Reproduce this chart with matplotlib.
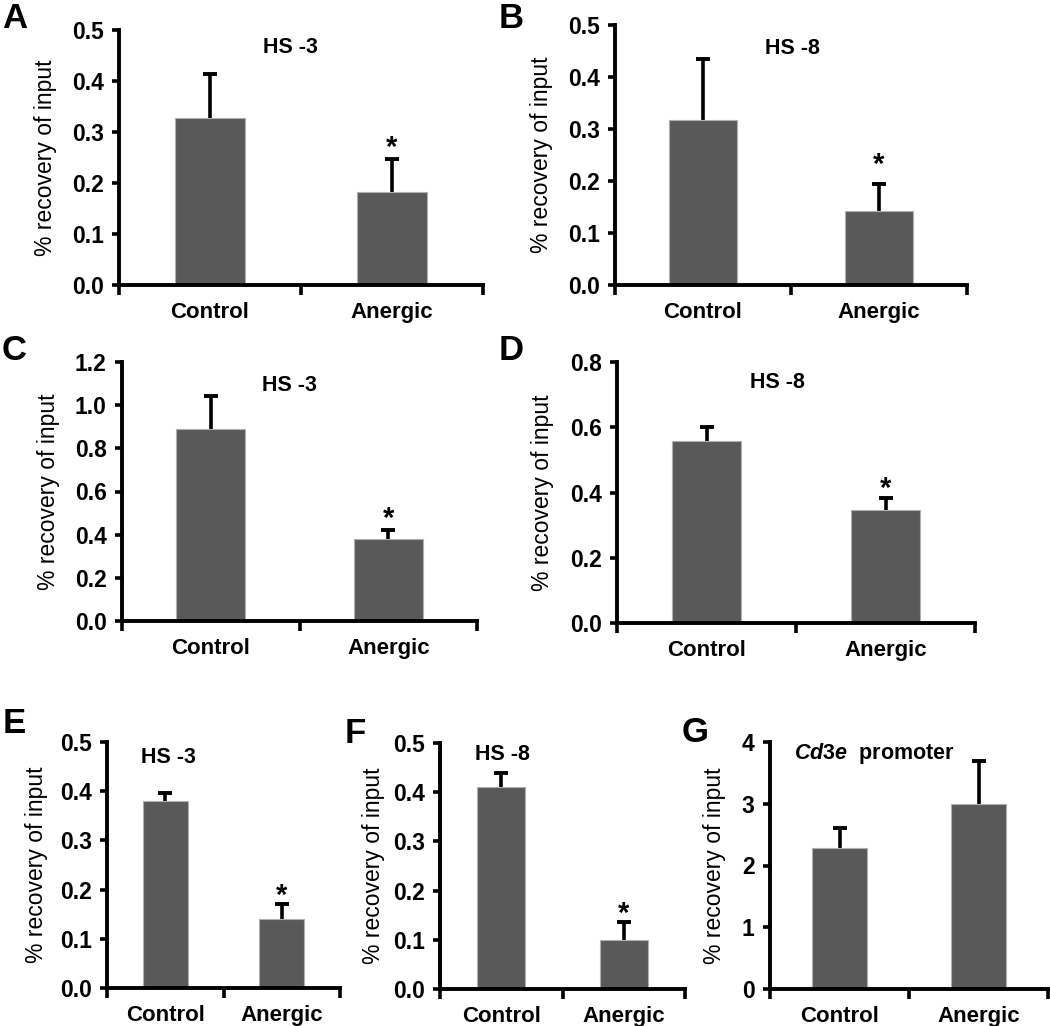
import matplotlib
matplotlib.use("Agg")
import matplotlib.pyplot as plt
from matplotlib.ticker import FormatStrFormatter
import numpy as np

plt.rcParams['font.family'] = ['Liberation Sans', 'DejaVu Sans']
plt.rcParams['mathtext.fontset'] = 'custom'
plt.rcParams['mathtext.it'] = 'Liberation Sans:italic:bold'
plt.rcParams['mathtext.rm'] = 'Liberation Sans:bold'
plt.rcParams['mathtext.bf'] = 'Liberation Sans:bold'

# ---- data ----
categories = ["Control", "Anergic"]
panel_letters = ["A", "B", "C", "D", "E", "F", "G"]
panel_titles = ["HS -3", "HS -8", "HS -3", "HS -8", "HS -3", "HS -8", r"$\mathit{Cd3e}$  promoter"]
values_A = [0.328, 0.183]
errors_A = [0.086, 0.065]
values_B = [0.317, 0.143]
errors_B = [0.118, 0.051]
values_C = [0.888, 0.378]
errors_C = [0.155, 0.043]
values_D = [0.557, 0.347]
errors_D = [0.043, 0.035]
values_E = [0.381, 0.141]
errors_E = [0.016, 0.030]
values_F = [0.410, 0.100]
errors_F = [0.029, 0.036]
values_G = [2.29, 3.00]
errors_G = [0.32, 0.69]
significant = [True, True, True, True, True, True, False]
yticks_A = [0.0, 0.1, 0.2, 0.3, 0.4, 0.5]
yticks_C = [0.0, 0.2, 0.4, 0.6, 0.8, 1.0, 1.2]
yticks_D = [0.0, 0.2, 0.4, 0.6, 0.8]
yticks_G = [0, 1, 2, 3, 4]
ylabel = "% recovery of input"

values = [values_A, values_B, values_C, values_D, values_E, values_F, values_G]
errors = [errors_A, errors_B, errors_C, errors_D, errors_E, errors_F, errors_G]
yticks = [yticks_A, yticks_A, yticks_C, yticks_D, yticks_A, yticks_A, yticks_G]
fmts = ['%.1f'] * 6 + ['%d']

W, H = 1050, 1026
fig = plt.figure(figsize=(W / 100, H / 100), dpi=100)

# axes boxes in pixels: left, right, bottom(y of 0), top(y of max)
boxes = [
    (119, 483, 285, 30),
    (615, 967, 285, 25),
    (122, 477, 621, 362),
    (617, 975, 623, 362),
    (107, 340, 988, 742),
    (440, 685, 989, 743),
    (770, 1048, 989, 742),
]
title_pos = [(0.47, 0.93), (0.503, 0.91), (0.473, 0.911), (0.447, 0.92),
             (0.262, 0.939), (0.253, 0.955), (0.088, 0.955)]
title_ha = ['center'] * 6 + ['left']
ylabel_x = [-0.203, -0.21, -0.208, -0.207, -0.303, -0.273, -0.198]
letter_pos = [(2, 28), (499, 28), (2, 360), (499, 360), (3, 733), (345, 743), (682, 742)]
star_off = [2, 8, 2, 1, 0, 0, 0]

bar_color = '#595959'
for i in range(7):
    l, r, b, t = boxes[i]
    ax = fig.add_axes([l / W, 1 - b / H, (r - l) / W, (b - t) / H])
    x = np.arange(len(categories))
    vals = values[i]
    errs = errors[i]
    ax.bar(x, vals, width=0.39, color=bar_color, edgecolor='#b0b0b0', linewidth=0.8, zorder=2)
    eb = ax.errorbar(x, vals, yerr=[np.zeros(len(vals)), errs], fmt='none', ecolor='black',
                     elinewidth=2.6, capsize=5, capthick=2.8, zorder=1)
    eb[1][0].set_visible(False)
    ax.set_xlim(-0.5, 1.5)
    ax.set_ylim(yticks[i][0], yticks[i][-1])
    ax.set_yticks(yticks[i])
    ax.yaxis.set_major_formatter(FormatStrFormatter(fmts[i]))
    ax.set_xticks([-0.5, 0.5, 1.5])
    ax.set_xticklabels([])
    ax.set_xticks(x, minor=True)
    ax.set_xticklabels(categories, minor=True, fontsize=16, fontweight='bold')
    ax.tick_params(axis='x', which='minor', length=0, pad=12)
    ax.tick_params(axis='x', which='major', length=7, width=2.6, direction='out')
    ax.tick_params(axis='y', length=5, width=2.6, direction='out', pad=6, labelsize=16.5)
    for lab in ax.get_yticklabels():
        lab.set_fontweight('bold')
    for s in ['top', 'right']:
        ax.spines[s].set_visible(False)
    for s in ['left', 'bottom']:
        ax.spines[s].set_linewidth(2.8)
    ax.spines['bottom'].set_capstyle('projecting')
    ax.set_ylabel(ylabel, fontsize=16.5)
    ax.yaxis.label.set_verticalalignment('center')
    ax.yaxis.set_label_coords(ylabel_x[i], 0.5)
    ax.text(title_pos[i][0], title_pos[i][1], panel_titles[i], transform=ax.transAxes,
            ha=title_ha[i], va='center', fontsize=15.5, fontweight='bold')
    if significant[i]:
        ax.annotate('*', xy=(1, vals[1] + errs[1]), xytext=(0, star_off[i]),
                    textcoords='offset points', ha='center', va='baseline',
                    fontsize=21, fontweight='bold')
    lx, ly = letter_pos[i]
    fig.text(lx / W, 1 - ly / H, panel_letters[i], fontsize=25, fontweight='bold',
             ha='left', va='baseline')

fig.savefig('out.png', dpi=100)
